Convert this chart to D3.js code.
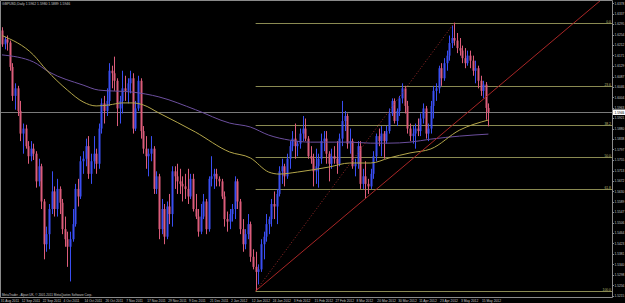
<!DOCTYPE html>
<html>
<head>
<meta charset="utf-8">
<script src="https://cdn.jsdelivr.net/npm/d3@7"></script>
<style>
  body { margin: 0; background: #000; }
  svg { display: block; }
  text { font-family: "Liberation Sans", Arial, sans-serif; }
</style>
</head>
<body>
<svg id="chart"></svg>
<script>
// GBPUSD daily bars, 31 Aug 2011 .. 17 May 2012 (index = bar number)
const opens = [
1.6270,1.6215,1.6235,1.6222,1.6125,1.6010,1.6040,1.5950,1.5860,1.5880,
1.5810,1.5770,1.5800,1.5780,1.5670,1.5730,1.5590,1.5420,1.5460,1.5560,
1.5630,1.5560,1.5640,1.5585,1.5480,1.5440,1.5410,1.5440,1.5500,1.5640,
1.5610,1.5750,1.5760,1.5810,1.5700,1.5750,1.5780,1.5740,1.5880,1.5980,
1.5950,1.5990,1.6110,1.6100,1.6070,1.5960,1.5990,1.6040,1.6030,1.6060,
1.6080,1.5880,1.5960,1.6070,1.5870,1.5800,1.5770,1.5780,1.5800,1.5640,
1.5690,1.5480,1.5560,1.5450,1.5570,1.5540,1.5710,1.5690,1.5670,1.5660,
1.5650,1.5640,1.5610,1.5680,1.5560,1.5530,1.5470,1.5530,1.5590,1.5480,
1.5680,1.5690,1.5700,1.5680,1.5670,1.5610,1.5520,1.5510,1.5540,1.5560,
1.5670,1.5590,1.5480,1.5420,1.5460,1.5500,1.5370,1.5330,1.5310,1.5320,
1.5420,1.5450,1.5500,1.5520,1.5580,1.5570,1.5620,1.5710,1.5730,1.5690,
1.5760,1.5810,1.5840,1.5810,1.5820,1.5860,1.5880,1.5840,1.5770,1.5760,
1.5710,1.5730,1.5760,1.5830,1.5840,1.5780,1.5740,1.5770,1.5760,1.5740,
1.5840,1.5910,1.5930,1.5820,1.5830,1.5730,1.5740,1.5810,1.5660,1.5690,
1.5660,1.5650,1.5700,1.5770,1.5850,1.5830,1.5860,1.5830,1.5870,1.5940,
1.5990,1.5910,1.5950,1.6000,1.6040,1.5970,1.5880,1.5850,1.5860,1.5880,
1.5870,1.5920,1.5960,1.5860,1.5880,1.5970,1.6030,1.6040,1.6120,1.6080,
1.6140,1.6170,1.6220,1.6240,1.6230,1.6200,1.6190,1.6160,1.6140,1.6170,
1.6150,1.6110,1.6120,1.6070,1.6030,1.6055,1.5962];
const highs = [
1.6283,1.6245,1.6250,1.6230,1.6140,1.6060,1.6050,1.5990,1.5900,1.5895,
1.5830,1.5830,1.5820,1.5790,1.5760,1.5740,1.5600,1.5490,1.5580,1.5710,
1.5650,1.5680,1.5650,1.5600,1.5530,1.5470,1.5470,1.5560,1.5660,1.5680,
1.5770,1.5790,1.5840,1.5850,1.5780,1.5850,1.5800,1.5900,1.6000,1.6010,
1.6040,1.6140,1.6130,1.6166,1.6080,1.6010,1.6110,1.6090,1.6080,1.6110,
1.6100,1.5990,1.6090,1.6080,1.5890,1.5850,1.5800,1.5850,1.5810,1.5710,
1.5700,1.5600,1.5580,1.5590,1.5620,1.5730,1.5730,1.5740,1.5720,1.5690,
1.5700,1.5720,1.5700,1.5700,1.5620,1.5560,1.5580,1.5620,1.5600,1.5690,
1.5770,1.5720,1.5720,1.5690,1.5680,1.5630,1.5550,1.5560,1.5580,1.5690,
1.5680,1.5600,1.5520,1.5480,1.5540,1.5510,1.5400,1.5390,1.5340,1.5440,
1.5470,1.5540,1.5530,1.5600,1.5630,1.5640,1.5730,1.5760,1.5740,1.5780,
1.5830,1.5870,1.5900,1.5830,1.5880,1.5930,1.5920,1.5850,1.5810,1.5780,
1.5800,1.5780,1.5860,1.5870,1.5870,1.5790,1.5800,1.5810,1.5830,1.5860,
1.5990,1.5950,1.5940,1.5880,1.5840,1.5760,1.5830,1.5830,1.5720,1.5750,
1.5680,1.5720,1.5790,1.5860,1.5880,1.5890,1.5870,1.5890,1.5960,1.6000,
1.6000,1.5960,1.6010,1.6060,1.6050,1.5990,1.5900,1.5890,1.5900,1.5920,
1.5940,1.5980,1.5970,1.5900,1.5990,1.6050,1.6060,1.6130,1.6140,1.6160,
1.6190,1.6250,1.6290,1.6301,1.6260,1.6240,1.6210,1.6200,1.6190,1.6190,
1.6170,1.6150,1.6130,1.6090,1.6070,1.6065,1.5980];
const lows = [
1.6205,1.6195,1.6190,1.6110,1.5990,1.5955,1.5930,1.5830,1.5780,1.5800,
1.5740,1.5750,1.5755,1.5645,1.5650,1.5560,1.5360,1.5390,1.5400,1.5540,
1.5530,1.5530,1.5540,1.5460,1.5410,1.5330,1.5272,1.5430,1.5490,1.5570,
1.5600,1.5700,1.5730,1.5680,1.5660,1.5720,1.5700,1.5720,1.5860,1.5900,
1.5930,1.5970,1.6040,1.6030,1.5890,1.5900,1.5940,1.5990,1.5980,1.6020,
1.5860,1.5870,1.5950,1.5840,1.5780,1.5720,1.5690,1.5750,1.5620,1.5620,
1.5440,1.5460,1.5420,1.5440,1.5500,1.5490,1.5640,1.5620,1.5620,1.5590,
1.5600,1.5580,1.5600,1.5550,1.5520,1.5450,1.5460,1.5520,1.5460,1.5470,
1.5650,1.5640,1.5650,1.5650,1.5600,1.5490,1.5470,1.5480,1.5510,1.5520,
1.5560,1.5460,1.5390,1.5400,1.5440,1.5350,1.5320,1.5234,1.5260,1.5310,
1.5360,1.5430,1.5460,1.5490,1.5520,1.5500,1.5610,1.5660,1.5650,1.5680,
1.5720,1.5790,1.5760,1.5770,1.5800,1.5830,1.5830,1.5760,1.5740,1.5650,
1.5660,1.5645,1.5740,1.5790,1.5740,1.5670,1.5720,1.5740,1.5700,1.5730,
1.5810,1.5870,1.5800,1.5780,1.5720,1.5690,1.5720,1.5640,1.5640,1.5602,
1.5620,1.5640,1.5680,1.5750,1.5810,1.5770,1.5760,1.5820,1.5860,1.5930,
1.5900,1.5890,1.5930,1.5980,1.5940,1.5860,1.5830,1.5820,1.5800,1.5850,
1.5850,1.5900,1.5840,1.5830,1.5860,1.5920,1.5990,1.6020,1.6050,1.6070,
1.6110,1.6150,1.6200,1.6210,1.6180,1.6170,1.6140,1.6120,1.6130,1.6120,
1.6090,1.6060,1.6040,1.6010,1.6000,1.5915,1.5889];
const closes = [
1.6215,1.6235,1.6222,1.6125,1.6010,1.6040,1.5950,1.5860,1.5880,1.5810,
1.5770,1.5800,1.5780,1.5670,1.5730,1.5590,1.5420,1.5460,1.5560,1.5630,
1.5560,1.5640,1.5585,1.5480,1.5440,1.5410,1.5440,1.5500,1.5640,1.5610,
1.5750,1.5760,1.5810,1.5700,1.5750,1.5780,1.5740,1.5880,1.5980,1.5950,
1.5990,1.6110,1.6100,1.6070,1.5960,1.5990,1.6040,1.6030,1.6060,1.6080,
1.5880,1.5960,1.6070,1.5870,1.5800,1.5770,1.5780,1.5800,1.5640,1.5690,
1.5480,1.5560,1.5450,1.5570,1.5540,1.5710,1.5690,1.5670,1.5660,1.5650,
1.5640,1.5610,1.5680,1.5560,1.5530,1.5470,1.5530,1.5590,1.5480,1.5680,
1.5690,1.5700,1.5680,1.5670,1.5610,1.5520,1.5510,1.5540,1.5560,1.5670,
1.5590,1.5480,1.5420,1.5460,1.5500,1.5370,1.5330,1.5310,1.5320,1.5420,
1.5450,1.5500,1.5520,1.5580,1.5570,1.5620,1.5710,1.5730,1.5690,1.5760,
1.5810,1.5840,1.5810,1.5820,1.5860,1.5880,1.5840,1.5770,1.5760,1.5710,
1.5730,1.5760,1.5830,1.5840,1.5780,1.5740,1.5770,1.5760,1.5740,1.5840,
1.5910,1.5930,1.5820,1.5830,1.5730,1.5740,1.5810,1.5660,1.5690,1.5660,
1.5650,1.5700,1.5770,1.5850,1.5830,1.5860,1.5830,1.5870,1.5940,1.5990,
1.5910,1.5950,1.6000,1.6040,1.5970,1.5880,1.5850,1.5860,1.5880,1.5870,
1.5920,1.5960,1.5860,1.5880,1.5970,1.6030,1.6040,1.6120,1.6080,1.6140,
1.6170,1.6220,1.6240,1.6230,1.6200,1.6190,1.6160,1.6140,1.6170,1.6150,
1.6110,1.6120,1.6070,1.6030,1.6055,1.5962,1.5946];

// moving averages at selected bars
const maFastBars   = [0, 12, 17, 25, 31, 36, 41, 46, 50, 54, 60, 74, 87, 95, 102, 106, 113, 125, 133, 141, 148, 156, 164, 175, 186];
const maFastValues = [1.6250,1.6173,1.6113,1.6033,1.5986,1.5970,1.5974,1.5982,1.5982,1.5974,1.5942,1.5866,1.5787,1.5763,1.5707,1.5699,1.5707,1.5727,1.5743,1.5743,1.5763,1.5783,1.5799,1.5874,1.5914];
const maSlowBars   = [0, 12, 18, 31, 37, 50, 60, 74, 87, 95, 102, 110, 118, 125, 133, 141, 148, 156, 164, 175, 186];
const maSlowValues = [1.6173,1.6145,1.6105,1.6053,1.6033,1.6025,1.6006,1.5955,1.5902,1.5886,1.5854,1.5834,1.5826,1.5826,1.5826,1.5822,1.5822,1.5826,1.5838,1.5850,1.5858];

// Fibonacci retracement from the 13 Jan low to the 30 Apr high
const fibLow = [97, 1.5234];
const fibHigh = [173, 1.6301];
const fibLevels = [0, 23.6, 38.2, 50, 61.8, 100];
const fibLabels = ["0.0", "23.6", "38.2", "50.0", "61.8", "100.0"];

// trend line through the 13 Jan and 13 Mar lows
const trendPoints = [[97, 1.5234], [139, 1.5602]];

// axis labels
const dateTickBars = [0, 8, 16, 24, 32, 40, 48, 56, 64, 72, 80, 88, 96, 104, 112, 120, 128, 136, 144, 152, 160, 168, 176, 184];
const dateTickLabels = ["31 Aug 2011","12 Sep 2011","22 Sep 2011","4 Oct 2011","14 Oct 2011","26 Oct 2011","7 Nov 2011","17 Nov 2011","29 Nov 2011","9 Dec 2011","21 Dec 2011","2 Jan 2012","12 Jan 2012","24 Jan 2012","3 Feb 2012","15 Feb 2012","27 Feb 2012","8 Mar 2012","20 Mar 2012","30 Mar 2012","11 Apr 2012","23 Apr 2012","3 May 2012","15 May 2012"];
const priceTicks = [1.6378,1.6337,1.6295,1.6254,1.6212,1.6171,1.6129,1.6087,1.6046,1.6004,1.5963,1.5921,1.5880,1.5838,1.5797,1.5755,1.5713,1.5672,1.5630,1.5589,1.5547,1.5506,1.5464,1.5423,1.5381,1.5340,1.5298,1.5256,1.5215];

const titleText = "GBPUSD,Daily  1.5962 1.5980 1.5889 1.5946";
const footerText = "MetaTrader - Alpari UK, \u00a9 2001-2011 MetaQuotes Software Corp.";

// ---------------------------------------------------------------
const W = 625, H = 303;
const plotRight = 612, plotBottom = 297;
const bullColor = "#3a4ef2", bearColor = "#dc5c7a";
const fibColor = "#8a8a52", textColor = "#c8c8c8";

const svg = d3.select("#chart").attr("width", W).attr("height", H);
svg.append("rect").attr("width", W).attr("height", H).attr("fill", "#000");

const x = d3.scaleLinear().domain([0, 186]).range([2, 2 + 186 * 2.615]);
const y = d3.scaleLinear().domain([fibLow[1], fibHigh[1]]).range([291, 22.7]);

svg.append("clipPath").attr("id", "plot")
  .append("rect").attr("x", 0).attr("y", 0).attr("width", plotRight).attr("height", plotBottom);

const g = svg.append("g").attr("clip-path", "url(#plot)");

// fibonacci levels
const fibPrice = l => fibHigh[1] - (fibHigh[1] - fibLow[1]) * l / 100;
g.selectAll(".fib").data(fibLevels).join("line")
  .attr("x1", x(fibLow[0])).attr("x2", plotRight)
  .attr("y1", d => Math.round(y(fibPrice(d))) + 0.5)
  .attr("y2", d => Math.round(y(fibPrice(d))) + 0.5)
  .attr("stroke", fibColor).attr("stroke-width", 1);

svg.selectAll(".fibLabel").data(fibLevels).join("text")
  .attr("x", plotRight - 1).attr("y", d => Math.round(y(fibPrice(d))) - 0.3)
  .attr("text-anchor", "end").attr("font-size", 3.4)
  .attr("fill", "#b8b870")
  .text((d, i) => fibLabels[i]);

// bid line
const last = closes.length - 1;
const bidY = Math.round(y(closes[last])) + 0.5;
g.append("line").attr("x1", 0).attr("x2", plotRight).attr("y1", bidY).attr("y2", bidY)
  .attr("stroke", "#7a7a7a").attr("stroke-width", 1);

// candles
const bars = d3.range(closes.length);
const candles = g.append("g");
candles.selectAll("line").data(bars).join("line")
  .attr("x1", i => Math.round(x(i)) + 0.5).attr("x2", i => Math.round(x(i)) + 0.5)
  .attr("y1", i => y(highs[i])).attr("y2", i => y(lows[i]))
  .attr("stroke", i => closes[i] >= opens[i] ? bullColor : bearColor)
  .attr("stroke-width", 1);
candles.selectAll("rect").data(bars).join("rect")
  .attr("x", i => Math.round(x(i)) - 0.5).attr("width", 2)
  .attr("y", i => y(Math.max(opens[i], closes[i])))
  .attr("height", i => Math.max(1, Math.abs(y(opens[i]) - y(closes[i]))))
  .attr("fill", i => closes[i] >= opens[i] ? bullColor : bearColor);

// moving averages
const maLine = d3.line().x(d => x(d[0])).y(d => y(d[1])).curve(d3.curveMonotoneX);
g.append("path").datum(maSlowBars.map((b, i) => [b, maSlowValues[i]]))
  .attr("d", maLine).attr("fill", "none").attr("stroke", "#6c4f9e").attr("stroke-width", 1);
g.append("path").datum(maFastBars.map((b, i) => [b, maFastValues[i]]))
  .attr("d", maLine).attr("fill", "none").attr("stroke", "#b4a64a").attr("stroke-width", 1);

// fib diagonal (dotted)
g.append("line")
  .attr("x1", x(fibLow[0])).attr("y1", y(fibLow[1]))
  .attr("x2", x(fibHigh[0])).attr("y2", y(fibHigh[1]))
  .attr("stroke", "#9a2a2a").attr("stroke-width", 1).attr("stroke-dasharray", "1,2");

// trend line ray
const [t0, t1] = trendPoints;
const slope = (t1[1] - t0[1]) / (t1[0] - t0[0]);
const tEnd = 260;
g.append("line")
  .attr("x1", x(t0[0])).attr("y1", y(t0[1]))
  .attr("x2", x(tEnd)).attr("y2", y(t0[1] + slope * (tEnd - t0[0])))
  .attr("stroke", "#a82626").attr("stroke-width", 1);

// frame
svg.append("path")
  .attr("d", `M0.5,${plotBottom + 0.5}V0.5H${plotRight + 0.5}V${plotBottom + 0.5}H0.5`)
  .attr("fill", "none").attr("stroke", "#8a8a8a").attr("stroke-width", 1);

// price axis
const pa = svg.append("g");
pa.selectAll("line").data(priceTicks).join("line")
  .attr("x1", plotRight + 0.5).attr("x2", plotRight + 2)
  .attr("y1", d => Math.round(y(d)) + 0.5).attr("y2", d => Math.round(y(d)) + 0.5)
  .attr("stroke", "#8a8a8a");
pa.selectAll("text").data(priceTicks).join("text")
  .attr("x", plotRight + 2.5).attr("y", d => y(d) + 1.2)
  .attr("font-size", 3.2).attr("fill", textColor)
  .text(d => d.toFixed(4));

// bid price box
svg.append("rect").attr("x", plotRight + 1).attr("y", bidY - 3).attr("width", 12).attr("height", 5.5)
  .attr("fill", "#fff");
svg.append("text").attr("x", plotRight + 2.5).attr("y", bidY + 1.2)
  .attr("font-size", 3.2).attr("fill", "#000").text(closes[last].toFixed(4));

// date axis
svg.selectAll(".dateLabel").data(dateTickBars).join("text")
  .attr("x", d => x(d) - 1.2).attr("y", 302)
  .attr("font-size", 3.3).attr("fill", textColor)
  .text((d, i) => dateTickLabels[i]);

// header and footer
svg.append("text").attr("x", 2).attr("y", 5.2).attr("font-size", 3.4)
  .attr("fill", textColor).text(titleText);
svg.append("text").attr("x", 2).attr("y", 295.6).attr("font-size", 3.1)
  .attr("fill", textColor).text(footerText);
</script>
</body>
</html>
